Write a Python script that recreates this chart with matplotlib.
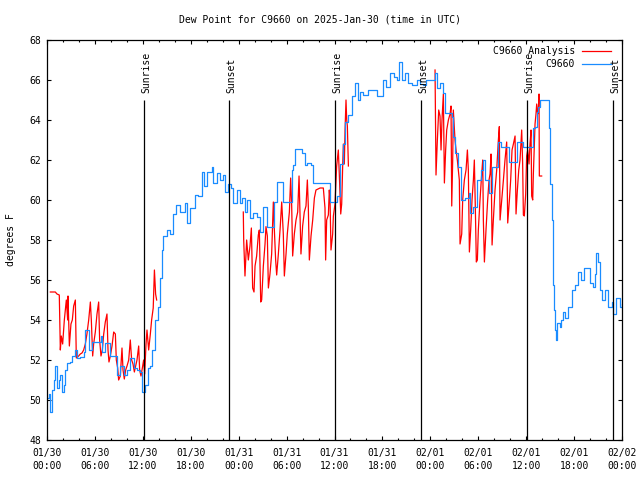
import matplotlib
matplotlib.use("Agg")
import matplotlib.pyplot as plt
import numpy as np

plt.rcParams['font.family'] = ['DejaVu Sans Mono']

# ---- data (hours since 2025-01-30 00:00 UTC) ----
obs_t = [0.0, 0.2, 0.4, 0.6, 0.83, 1.04, 1.25, 1.46, 1.67, 1.88, 2.09, 2.3, 2.5, 2.9, 3.13, 3.55, 3.75,
         4.17, 4.6, 4.8, 5.2, 5.6, 6.5, 6.7, 6.9, 7.3, 7.7, 7.9, 8.56, 8.76, 9.2, 9.6, 10.0, 10.4, 10.85,
         11.3, 11.7, 11.9, 12.3, 12.6, 12.9, 13.1, 13.3, 13.5, 13.7, 13.9, 14.15, 14.35, 14.56, 15.0, 15.4,
         15.8, 16.2, 16.65, 17.3, 17.5, 17.9, 18.5, 18.95, 19.4, 19.6, 20.0, 20.6, 20.8, 21.25, 21.6, 22.1,
         22.3, 22.7, 23.0, 23.3, 23.75, 24.2, 24.4, 24.8, 25.0, 25.4, 25.8, 26.25, 26.7, 27.1, 27.5, 28.0,
         28.4, 28.8, 29.4, 29.6, 30.2, 30.7, 30.85, 31.05, 31.9, 32.3, 32.5, 33.1, 33.3, 35.0, 35.4, 35.85,
         36.3, 36.7, 37.1, 37.3, 37.7, 38.2, 38.6, 39.0, 39.2, 39.6, 40.2, 40.9, 41.3, 41.7, 42.1, 42.5,
         43.0, 43.4, 43.8, 44.1, 44.4, 44.8, 45.2, 45.7, 46.3, 46.7, 47.1, 47.5, 48.4, 48.6, 48.8, 49.2,
         49.6, 49.8, 50.5, 50.7, 50.9, 51.1, 51.5, 51.9, 52.3, 52.8, 53.0, 53.4, 53.8, 54.4, 54.6, 54.8,
         55.3, 55.7, 56.1, 56.5, 56.9, 57.6, 57.8, 58.6, 58.8, 59.2, 59.6, 60.7, 60.9, 61.1, 61.3, 61.5,
         61.7, 62.6, 62.8, 63.0, 63.2, 63.4, 63.5, 63.6, 63.7, 63.9, 64.2, 64.4, 64.6, 64.8, 65.3, 65.7,
         66.1, 66.5, 66.9, 67.2, 67.6, 68.0, 68.4, 68.6, 68.8, 69.0, 69.2, 69.5, 69.9, 70.3, 70.7, 70.9,
         71.3, 71.7, 72.0]
obs_v = [50.1, 50.3, 49.4, 50.5, 51.0, 51.7, 50.6, 51.0, 51.25, 50.4, 50.75, 51.5, 51.85, 51.9, 52.2, 52.5, 52.1,
         52.15, 52.4, 53.5, 52.5, 52.9, 52.9, 53.2, 52.4, 52.85, 52.85, 52.2, 52.2, 51.25, 51.7, 51.25, 51.5, 52.1, 51.6,
         51.5, 51.4, 50.4, 50.75, 51.6, 51.7, 52.5, 52.5, 54.0, 54.0, 54.65, 56.1, 57.5, 58.2, 58.5, 58.3,
         59.3, 59.75, 59.4, 59.85, 58.85, 59.6, 60.25, 60.2, 61.4, 60.7, 61.4, 61.65, 60.85, 61.35, 61.0, 61.25,
         60.4, 60.8, 60.6, 59.85, 60.5, 59.85, 60.1, 59.4, 60.0, 59.1, 59.35, 59.15, 58.4, 59.65, 58.65, 58.65,
         59.9, 60.9, 60.9, 59.9, 59.9, 61.5, 61.75, 62.55, 62.35, 61.75, 61.85, 61.75, 60.85, 60.85, 59.9, 59.9,
         60.2, 61.8, 62.8, 63.9, 64.25, 65.2, 65.85, 65.0, 65.4, 65.25, 65.5, 65.5, 65.2, 65.2, 66.0, 65.65,
         66.35, 66.15, 66.0, 66.9, 66.0, 66.35, 65.85, 65.75, 66.0, 65.8, 65.75, 66.0, 66.0, 66.35, 65.6, 65.85,
         65.35, 64.35, 64.35, 64.15, 63.15, 62.35, 61.65, 60.0, 60.1, 60.35, 59.35, 59.65, 61.0, 61.5, 62.0, 61.0,
         60.35, 61.65, 61.65, 62.9, 62.65, 62.65, 61.9, 61.9, 62.9, 62.9, 62.65, 62.65, 63.6, 63.65, 64.4, 64.65,
         65.0, 65.0, 63.6, 60.8, 59.0, 55.75, 54.5, 53.5, 53.0, 53.85, 53.65, 54.0, 54.4, 54.1, 54.65, 55.5,
         55.75, 56.4, 56.0, 56.6, 56.6, 55.85, 55.65, 56.3, 57.35, 56.9, 55.5, 55.0, 55.5, 54.65, 54.9, 54.3,
         55.1, 54.65, 54.8]

ana1_t = [0.42, 1.04, 1.25, 1.54, 1.67, 1.79, 1.96, 2.17, 2.42, 2.59, 2.63, 2.8, 3.0, 3.17, 3.34, 3.55, 3.67,
          3.96, 4.17, 4.38, 4.59, 4.8, 5.0, 5.22, 5.43, 5.55, 5.72, 5.84, 6.05, 6.26, 6.47, 6.59, 6.76, 6.93,
          7.1, 7.3, 7.51, 7.64, 7.76, 7.93, 8.14, 8.35, 8.56, 8.68, 8.85, 8.97, 9.18, 9.39, 9.52, 9.68, 9.85,
          10.02, 10.23, 10.43, 10.6, 10.77, 10.94, 11.1, 11.27, 11.48, 11.6, 11.77, 11.94, 12.1, 12.23, 12.4,
          12.52, 12.73, 12.94, 13.1, 13.3, 13.45, 13.6, 13.73]
ana1_v = [55.4, 55.4, 55.3, 55.25, 52.5, 53.2, 52.8, 54.0, 55.0, 54.0, 55.2, 52.7, 53.8, 54.0, 54.7, 55.0, 52.1,
          52.2, 52.3, 52.35, 52.5, 52.8, 53.3, 54.0, 54.9, 54.0, 52.2, 52.8, 53.4, 54.3, 54.9, 53.0, 52.2, 52.5,
          53.3, 53.9, 54.3, 52.5, 51.9, 52.2, 52.7, 53.4, 53.3, 52.0, 51.6, 51.0, 51.2, 52.6, 51.5, 51.05, 51.5,
          51.7, 52.0, 53.0, 52.0, 51.8, 51.4, 51.7, 52.0, 52.7, 51.5, 51.2, 51.6, 52.0, 51.3, 52.8,
          53.5, 52.5, 53.3, 54.0, 54.6, 56.5, 55.3, 55.0]

ana2_t = [24.58, 24.63, 24.79, 25.0, 25.21, 25.42, 25.59, 25.75, 25.92, 26.05, 26.25, 26.46, 26.59, 26.76,
          26.88, 27.09, 27.3, 27.42, 27.59, 27.72, 27.92, 28.13, 28.34, 28.47, 28.63, 28.76, 28.97, 29.18,
          29.39, 29.59, 29.72, 29.93, 30.09, 30.35, 30.51, 30.64, 30.76, 30.97, 31.18, 31.39, 31.56, 31.68,
          31.8, 32.01, 32.22, 32.43, 32.6, 32.72, 32.85, 33.06, 33.27, 33.48, 33.68, 34.19, 34.6, 34.81,
          34.89, 35.02, 35.23, 35.35, 35.44, 35.56, 35.77, 35.86, 36.06, 36.27, 36.48, 36.61, 36.78, 36.9,
          37.03, 37.11, 37.23, 37.32, 37.44, 37.53, 37.61, 37.74]
ana2_v = [59.4, 58.0, 56.2, 58.0, 57.0, 57.7, 58.6, 55.6, 55.4, 56.7, 57.2, 58.25, 58.5, 54.9,
          55.0, 56.7, 57.8, 58.67, 58.2, 55.6, 56.3, 57.3, 59.9, 58.5, 57.0, 56.25, 57.3, 58.5,
          59.9, 58.3, 56.2, 57.3, 58.3, 59.4, 61.1, 59.7, 57.2, 58.3, 59.0, 59.4, 61.2, 59.3,
          57.3, 58.7, 59.4, 59.7, 61.0, 59.7, 57.0, 58.2, 59.0, 60.1, 60.5, 60.6, 60.6, 59.6,
          57.0, 59.0, 59.25, 60.5, 60.0, 57.5, 58.3, 59.2, 59.8, 61.7, 62.5, 61.2, 59.3, 59.8,
          61.8, 62.8, 61.8, 63.5, 65.0, 64.0, 63.7, 61.7]

ana3_t = [48.59, 48.71, 48.88, 49.05, 49.21, 49.34, 49.46, 49.63, 49.76, 49.92, 50.05, 50.26, 50.47, 50.59,
          50.68, 50.8, 50.88, 51.09, 51.22, 51.38, 51.63, 51.72, 51.93, 52.05, 52.26, 52.47, 52.64, 52.76,
          52.89, 53.05, 53.22, 53.39, 53.51, 53.64, 53.76, 53.89, 54.01, 54.22, 54.43, 54.56, 54.64, 54.77,
          54.97, 55.18, 55.35, 55.48, 55.6, 55.73, 55.89, 56.1, 56.31, 56.52, 56.64, 56.73, 56.94, 57.15,
          57.35, 57.56, 57.69, 57.9, 58.06, 58.23, 58.4, 58.61, 58.73, 58.9, 59.07, 59.23, 59.44, 59.56,
          59.65, 59.77, 59.94, 60.06, 60.19, 60.36, 60.48, 60.61, 60.69, 60.82, 60.9, 61.02, 61.11, 61.23,
          61.32, 61.44, 61.53, 61.61, 61.65, 61.94]
ana3_v = [66.5, 61.25, 63.0, 64.5, 64.2, 62.5, 64.0, 65.3, 60.85, 62.5, 63.5, 64.0, 64.3, 64.7,
          59.7, 62.0, 64.5, 63.0, 62.5, 62.0, 61.0, 57.8, 58.3, 60.0, 61.0, 61.5, 62.5, 61.5,
          57.4, 58.5, 60.0, 61.0, 62.0, 59.5, 56.9, 57.0, 58.5, 60.0, 61.3, 62.0, 59.0, 56.9,
          58.5, 60.0, 61.0, 61.3, 62.3, 57.75, 59.0, 60.5, 61.5, 63.0, 63.67, 59.0, 60.0, 61.0,
          62.0, 62.9, 58.85, 60.0, 61.0, 62.5, 62.8, 63.2, 59.3, 60.5, 61.5, 62.0, 63.5, 61.8,
          59.25, 59.2, 60.3, 62.2, 62.5, 61.8, 62.8, 63.5, 60.2, 60.0, 61.3, 62.7, 63.8, 64.3,
          64.8, 64.3, 64.5, 65.3, 61.2, 61.2]

sunrise_t = [12.15, 36.06, 60.1]
sunset_t = [22.79, 46.83, 70.87]

xtick_pos = [0, 6, 12, 18, 24, 30, 36, 42, 48, 54, 60, 66, 72]
xtick_labels = ["01/30\n00:00", "01/30\n06:00", "01/30\n12:00", "01/30\n18:00",
                "01/31\n00:00", "01/31\n06:00", "01/31\n12:00", "01/31\n18:00",
                "02/01\n00:00", "02/01\n06:00", "02/01\n12:00", "02/01\n18:00",
                "02/02\n00:00"]
ytick_pos = [48, 50, 52, 54, 56, 58, 60, 62, 64, 66, 68]

RED = '#ff0000'
BLUE = '#1a8cff'
FS = 7

fig = plt.figure(figsize=(6.4, 4.8), dpi=100)
ax = fig.add_axes([47/640, 40/480, 575/640, 400/480])

l1, = ax.plot(ana1_t, ana1_v, color=RED, lw=0.9, label='C9660 Analysis')
ax.plot(ana2_t, ana2_v, color=RED, lw=0.9)
ax.plot(ana3_t, ana3_v, color=RED, lw=0.9)
l2, = ax.plot(obs_t, obs_v, color=BLUE, lw=0.9, drawstyle='steps-post', label='C9660')

ax.vlines(sunrise_t + sunset_t, 48, 65, color='black', lw=0.9)
for t in sunrise_t:
    ax.text(t + 0.25, 65.35, 'Sunrise', rotation=90, ha='center', va='bottom', fontsize=FS)
for t in sunset_t:
    ax.text(t + 0.25, 65.35, 'Sunset', rotation=90, ha='center', va='bottom', fontsize=FS)

ax.set_xlim(0, 72)
ax.set_ylim(48, 68)
ax.set_xticks(xtick_pos)
ax.set_xticklabels(xtick_labels, fontsize=FS, linespacing=1.3)
ax.set_xticks(np.arange(0, 73, 2), minor=True)
ax.set_yticks(ytick_pos)
ax.set_yticklabels([str(v) for v in ytick_pos], fontsize=FS)
ax.tick_params(axis='both', which='major', direction='in', length=3, width=0.8,
               top=True, right=True, pad=4)
ax.tick_params(axis='x', which='minor', direction='in', length=1.5, width=0.8, top=True)
ax.tick_params(axis='x', which='major', pad=6)
for s in ax.spines.values():
    s.set_linewidth(0.9)

ax.set_ylabel('degrees F', fontsize=FS, labelpad=10)
fig.suptitle('Dew Point for C9660 on 2025-Jan-30 (time in UTC)', fontsize=FS, y=1 - 20/480, va='center')

leg = ax.legend(handles=[l1, l2], loc='upper right', bbox_to_anchor=(0.981, 0.985),
                frameon=False, markerfirst=False, fontsize=FS, handlelength=3.0,
                handletextpad=0.7, borderpad=0, borderaxespad=0, labelspacing=0.3)

fig.savefig('out.png', dpi=100)
